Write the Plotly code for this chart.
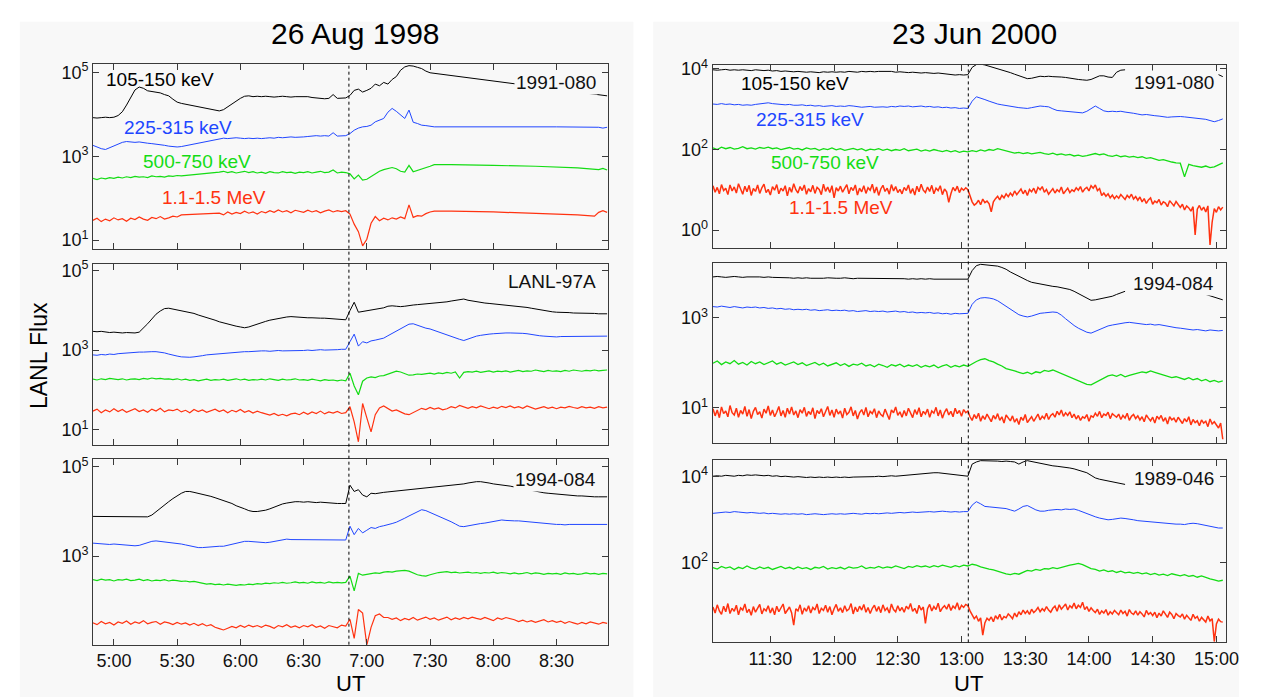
import plotly.graph_objects as go

W, H = 1261, 698
NA = None

# Sample times in minutes after midnight UT
t_1998 = list(range(290, 535, 2))     # 04:50 .. 08:54, 2-min cadence
t_2000 = list(range(663, 904, 2))     # 11:03 .. 15:03, 2-min cadence
t_2000_1m = list(range(663, 904))     # 11:03 .. 15:03, 1-min cadence (1.1-1.5 MeV)

onset_1998 = 411.5   # 06:51.5 UT
onset_2000 = 783.2   # 13:03.2 UT

channels = ["105-150 keV", "225-315 keV", "500-750 keV", "1.1-1.5 MeV"]
channel_colors = ["#000000", "#2046ff", "#14dc14", "#ff3210"]

ticks_1998 = ["5:00", "5:30", "6:00", "6:30", "7:00", "7:30", "8:00", "8:30"]
ticks_2000 = ["11:30", "12:00", "12:30", "13:00", "13:30", "14:00", "14:30", "15:00"]

# ---- 26 Aug 1998, 1991-080 : log10 flux ----
lg_a_105 = [
    3.92, 3.91, 3.92, 3.93, 3.92, 3.93, 3.97, 4.06, 4.22, 4.40,
    4.58, 4.65, 4.62, 4.56, 4.54, 4.53, 4.51, 4.47, 4.44, 4.36,
    4.29, 4.26, NA, NA, NA, NA, NA, NA, NA, NA,
    4.08, 4.11, 4.18, 4.25, 4.32, 4.38, 4.43, 4.44, 4.42, 4.43,
    4.42, 4.43, 4.42, 4.41, 4.42, 4.43, 4.42, 4.41, 4.42, 4.42,
    4.41, 4.42, 4.40, 4.39, 4.38, 4.37, 4.38, 4.47, 4.38, 4.39,
    4.39, 4.45, 4.57, 4.60, 4.53, 4.57, 4.62, 4.72, 4.68, 4.76,
    4.72, 4.83, 4.90, 5.05, 5.13, 5.16, 5.15, 5.12, 5.09, 5.03,
    4.99, NA, NA, NA, NA, NA, NA, NA, NA, NA,
    NA, NA, NA, NA, NA, NA, NA, NA, NA, NA,
    NA, NA, NA, NA, NA, NA, NA, NA, NA, NA,
    NA, NA, NA, NA, NA, NA, NA, NA, NA, NA,
    NA, NA, 4.44]
lg_a_225 = [
    3.26, 3.22, 3.18, 3.16, 3.20, 3.24, 3.29, 3.33, 3.35, 3.34,
    3.33, 3.34, 3.32, 3.31, 3.30, 3.29, 3.27, 3.26, 3.24, 3.23,
    3.22, 3.23, NA, NA, NA, NA, NA, NA, NA, NA,
    3.42, 3.43, 3.42, 3.43, 3.44, 3.43, 3.42, 3.43, 3.42, 3.43,
    3.42, 3.43, 3.44, 3.43, 3.45, 3.44, 3.45, 3.46, 3.45, 3.45,
    3.46, 3.47, 3.48, 3.49, 3.48, 3.49, 3.48, 3.56, 3.48, 3.49,
    3.49, 3.54, 3.62, 3.67, 3.70, 3.71, 3.74, 3.82, 3.86, 3.90,
    4.05, 4.14, 4.07, 3.99, 3.90, 4.10, 3.81, 3.78, 3.74, 3.73,
    3.71, 3.70, NA, NA, NA, NA, NA, NA, NA, NA,
    NA, NA, NA, NA, NA, NA, NA, NA, NA, NA,
    NA, NA, NA, NA, NA, NA, NA, NA, NA, NA,
    3.70, NA, NA, NA, NA, NA, NA, NA, NA, NA,
    3.69, 3.67, 3.69]
lg_a_500 = [
    2.47, 2.44, 2.48, 2.46, 2.49, 2.47, 2.50, 2.48, 2.51, 2.49,
    2.52, 2.50, 2.51, 2.49, 2.53, 2.51, 2.52, 2.50, 2.53, 2.52,
    2.54, 2.53, NA, NA, NA, NA, NA, NA, NA, NA,
    2.62, 2.64, 2.61, 2.63, 2.60, 2.62, 2.64, 2.61, 2.63, 2.60,
    2.62, 2.59, 2.63, 2.61, 2.60, 2.63, 2.61, 2.62, 2.59, 2.62,
    2.61, 2.63, 2.60, 2.62, 2.64, 2.61, 2.62, 2.67, 2.60, 2.62,
    2.61, 2.58, 2.46, 2.55, 2.43, 2.45, 2.52, 2.58, 2.64, 2.68,
    2.70, 2.73, 2.70, 2.64, 2.62, 2.78, 2.63, 2.66, 2.69, 2.72,
    2.76, 2.80, NA, NA, NA, 2.80, NA, NA, NA, NA,
    NA, NA, NA, NA, NA, 2.78, NA, NA, NA, NA,
    NA, NA, NA, NA, NA, 2.76, NA, NA, NA, NA,
    NA, NA, NA, NA, NA, 2.72, NA, NA, NA, 2.70,
    2.68, 2.71, 2.67]
lg_a_1100 = [
    1.47, 1.52, 1.44, 1.50, 1.46, 1.53, 1.48, 1.51, 1.45, 1.52,
    1.49, 1.55, 1.50, 1.47, 1.54, 1.51, 1.56, 1.50, 1.53, 1.57,
    1.55, 1.60, NA, NA, NA, NA, NA, NA, NA, NA,
    1.64, 1.60, 1.67, 1.62, 1.66, 1.63, 1.69, 1.64, 1.67, 1.62,
    1.68, 1.65, 1.70, 1.66, 1.72, 1.67, 1.70, 1.65, 1.71, 1.68,
    1.66, 1.71, 1.67, 1.70, 1.65, 1.69, 1.72, 1.67, 1.70, 1.68,
    1.70, 1.62, 1.38, 1.20, 0.86, 1.02, 1.40, 1.56, 1.46, 1.52,
    1.48, 1.53, 1.50, 1.55, 1.51, 1.84, 1.54, 1.58, 1.57, 1.63,
    1.67, 1.69, NA, NA, NA, 1.69, NA, NA, NA, NA,
    NA, NA, NA, NA, NA, 1.67, NA, NA, NA, NA,
    NA, NA, NA, NA, NA, 1.64, NA, NA, NA, NA,
    NA, NA, NA, NA, NA, 1.60, NA, NA, NA, 1.57,
    1.66, 1.70, 1.66]

# ---- 26 Aug 1998, LANL-97A ----
lg_b_105 = [
    3.47, 3.46, 3.47, 3.45, 3.44, 3.45, 3.44, 3.43, 3.44, 3.43,
    3.43, 3.45, 3.55, 3.66, 3.78, 3.90, 3.98, 4.04, 4.05, 4.03,
    4.01, 3.99, 3.97, 3.95, 3.92, 3.88, 3.85, 3.82, 3.78, 3.75,
    3.71, 3.68, 3.65, 3.62, 3.60, 3.58, 3.56, 3.58, 3.62, 3.66,
    3.69, 3.72, 3.75, 3.77, 3.80, 3.82, 3.83, 3.84, 3.83, 3.82,
    3.82, 3.81, 3.81, 3.80, 3.80, 3.80, 3.79, 3.78, 3.77, 3.77,
    3.76, 3.99, 4.20, 3.95, 3.97, 3.99, 4.01, 4.03, 4.04, 4.06,
    4.10, 4.11, 4.10, 4.09, 4.10, 4.12, 4.13, 4.14, 4.15, 4.16,
    4.16, 4.17, 4.18, 4.19, 4.21, 4.23, 4.25, 4.27, 4.28, 4.25,
    4.23, 4.21, 4.20, 4.18, 4.17, 4.16, 4.15, 4.14, 4.13, 4.11,
    4.10, 4.09, 4.08, 4.07, 4.05, 4.03, 4.01, 3.99, 3.97, 3.96,
    3.95, 3.95, 3.94, 3.94, 3.93, 3.93, 3.93, 3.92, 3.92, 3.92,
    3.91, 3.91, 3.91]
lg_b_225 = [
    2.88, 2.87, 2.89, 2.88, 2.90, 2.89, 2.91, 2.92, 2.92, 2.93,
    2.94, 2.95, 2.95, 2.96, 2.96, 2.96, 2.95, 2.93, 2.90, 2.87,
    2.85, 2.83, 2.82, 2.82, 2.83, 2.84, 2.86, 2.88, 2.89, 2.90,
    2.91, 2.92, 2.92, 2.93, 2.94, 2.95, 2.96, 2.96, 2.97, 2.97,
    2.98, 2.98, 2.97, 2.98, 2.99, 2.98, 2.98, 2.99, 2.98, 2.99,
    2.99, 3.00, 2.99, 3.00, 3.01, 3.00, 3.00, 3.01, 3.01, 3.02,
    3.02, 3.21, 3.40, 3.10, 3.21, 3.18, 3.23, 3.25, 3.27, 3.30,
    3.36, 3.42, 3.48, 3.54, 3.60, 3.65, 3.66, 3.62, 3.58, 3.55,
    3.53, 3.49, 3.45, 3.41, 3.37, 3.33, 3.30, 3.27, 3.24, 3.28,
    3.32, 3.35, 3.37, 3.39, 3.40, 3.41, 3.42, 3.42, 3.43, 3.43,
    3.43, 3.42, 3.42, 3.41, 3.39, 3.38, 3.36, 3.35, 3.34, 3.33,
    3.33, 3.34, 3.34, 3.35, 3.34, 3.35, 3.35, 3.34, 3.35, 3.35,
    3.35, 3.34, 3.35]
lg_b_500 = [
    2.27, 2.25, 2.28, 2.26, 2.29, 2.27, 2.26, 2.28, 2.25, 2.27,
    2.28, 2.26, 2.29, 2.27, 2.30, 2.28, 2.29, 2.27, 2.28, 2.26,
    2.28, 2.25, 2.27, 2.24, 2.26, 2.23, 2.25, 2.27, 2.24, 2.26,
    2.25, 2.27, 2.24, 2.26, 2.28, 2.25, 2.27, 2.24, 2.26, 2.25,
    2.27, 2.25, 2.28, 2.26, 2.24, 2.27, 2.25, 2.26, 2.28, 2.25,
    2.26, 2.24, 2.27, 2.25, 2.23, 2.26, 2.24, 2.25, 2.23, 2.25,
    2.23, 2.42, 2.10, 1.88, 2.22, 2.30, 2.33, 2.31, 2.35, 2.36,
    2.40, 2.44, 2.47, 2.45, 2.41, 2.37, 2.38, 2.40, 2.39, 2.41,
    2.42, 2.40, 2.43, 2.41, 2.44, 2.42, 2.45, 2.30, 2.44, 2.46,
    2.45, 2.47, 2.44, 2.46, 2.48, 2.45, 2.47, 2.46, 2.48, 2.45,
    2.47, 2.49, 2.46, 2.48, 2.47, 2.50, 2.48, 2.46, 2.49, 2.47,
    2.48, 2.46, 2.49, 2.47, 2.50, 2.48, 2.47, 2.49, 2.48, 2.50,
    2.48, 2.49, 2.50]
lg_b_1100 = [
    1.47, 1.52, 1.43, 1.50, 1.45, 1.53, 1.46, 1.51, 1.44, 1.49,
    1.53, 1.46, 1.50, 1.44, 1.52, 1.47, 1.54, 1.45, 1.50, 1.48,
    1.52, 1.45, 1.49, 1.43, 1.51, 1.46, 1.50, 1.44, 1.48, 1.52,
    1.46, 1.50, 1.43, 1.49, 1.45, 1.51, 1.44, 1.48, 1.42, 1.47,
    1.43, 1.40, 1.37, 1.41, 1.36, 1.39, 1.35, 1.40, 1.42, 1.38,
    1.44, 1.39, 1.45, 1.41, 1.47, 1.40, 1.45, 1.42, 1.46, 1.41,
    1.43, 1.58, 1.20, 0.70, 1.66, 1.30, 0.95, 1.38, 1.55, 1.60,
    1.53, 1.47, 1.50, 1.45, 1.40, 1.38, 1.44, 1.50, 1.54, 1.51,
    1.56, 1.52, 1.55, 1.50, 1.53, 1.58, 1.55, 1.61, 1.57, 1.54,
    1.58, 1.55, 1.60, 1.56, 1.53, 1.57, 1.54, 1.59, 1.56, 1.60,
    1.55, 1.58, 1.54, 1.60, 1.56, 1.52, 1.55, 1.58, 1.54, 1.57,
    1.53, 1.57, 1.55, 1.59, 1.56, 1.54, 1.58, 1.55, 1.57, 1.54,
    1.58, 1.55, 1.57]

# ---- 26 Aug 1998, 1994-084 ----
lg_c_105 = [
    3.89, 3.89, 3.88, 3.89, 3.88, 3.89, 3.88, 3.88, 3.89, 3.88,
    3.88, 3.88, 3.88, 3.88, 3.92, 4.00, 4.08, 4.15, 4.22, 4.29,
    4.36, 4.41, 4.45, 4.45, 4.43, 4.41, 4.39, 4.37, 4.34, 4.31,
    4.28, 4.25, 4.22, 4.18, 4.13, 4.10, 4.06, 4.02, 4.00, 4.00,
    4.01, 4.03, 4.06, 4.10, 4.14, 4.17, 4.19, 4.21, 4.22, 4.22,
    4.21, 4.22, 4.21, 4.20, 4.21, 4.20, 4.19, 4.19, 4.18, 4.18,
    4.18, 4.59, 4.45, 4.49, 4.37, 4.33, 4.41, 4.40, 4.42, 4.43,
    4.44, 4.45, 4.45, 4.46, 4.47, 4.48, 4.49, 4.50, 4.52, 4.53,
    4.54, 4.55, 4.56, 4.57, 4.58, 4.59, 4.60, 4.61, 4.62, 4.64,
    4.66, 4.67, 4.67, 4.66, 4.64, 4.62, 4.61, 4.60, 4.59, 4.57,
    4.55, 4.53, 4.51, 4.49, 4.47, 4.45, 4.43, 4.42, 4.41, 4.40,
    4.39, 4.39, 4.38, 4.37, 4.36, 4.35, 4.35, 4.34, 4.34, 4.33,
    4.33, 4.33, 4.33]
lg_c_225 = [
    3.29, 3.28, 3.28, 3.27, 3.26, 3.27, 3.26, 3.25, 3.24, 3.23,
    3.23, 3.24, 3.27, 3.30, 3.33, 3.34, 3.33, 3.31, 3.30, 3.29,
    3.29, 3.27, 3.25, 3.23, 3.21, 3.19, 3.19, 3.20, 3.20, 3.21,
    3.22, 3.22, 3.24, 3.26, 3.28, 3.31, 3.33, 3.33, 3.32, 3.31,
    3.30, 3.30, 3.31, 3.33, 3.35, 3.37, 3.38, 3.37, 3.37, 3.36,
    3.36, 3.37, 3.36, 3.37, 3.36, 3.36, 3.37, 3.36, 3.36, 3.36,
    3.36, 3.67, 3.48, 3.62, 3.52, 3.58, 3.64, 3.62, 3.66, 3.68,
    3.70, 3.73, 3.76, 3.80, 3.85, 3.90, 3.95, 4.00, 4.04, 4.02,
    3.98, 3.94, 3.90, 3.86, 3.82, 3.77, 3.72, 3.67, 3.66, 3.68,
    3.70, 3.72, 3.73, 3.74, 3.76, 3.78, 3.80, 3.81, 3.80, 3.79,
    3.79, 3.79, 3.78, 3.77, 3.76, 3.75, 3.74, 3.73, 3.72, 3.71,
    3.71, 3.71, 3.70, 3.71, 3.71, 3.70, 3.71, 3.71, 3.70, 3.71,
    3.71, 3.71, 3.71]
lg_c_500 = [
    2.47, 2.45, 2.48, 2.46, 2.47, 2.44, 2.47, 2.46, 2.48, 2.45,
    2.46, 2.48, 2.45, 2.47, 2.44, 2.46, 2.45, 2.47, 2.44, 2.46,
    2.45, 2.43, 2.44, 2.42, 2.43, 2.41, 2.39, 2.37, 2.38, 2.36,
    2.37, 2.35, 2.37, 2.36, 2.34, 2.36, 2.35, 2.37, 2.36, 2.38,
    2.37, 2.39, 2.38, 2.40, 2.39, 2.41, 2.39, 2.40, 2.42, 2.40,
    2.41, 2.39, 2.42, 2.40, 2.41, 2.39, 2.42, 2.40, 2.41, 2.40,
    2.41, 2.55, 2.22, 2.61, 2.57, 2.59, 2.60, 2.62, 2.61, 2.64,
    2.65, 2.64, 2.66, 2.67, 2.68, 2.66, 2.62, 2.58, 2.56, 2.55,
    2.58, 2.61, 2.63, 2.64, 2.65, 2.63, 2.64, 2.62, 2.63, 2.64,
    2.62, 2.63, 2.61, 2.63, 2.62, 2.64, 2.61, 2.63, 2.62, 2.60,
    2.62, 2.60, 2.61, 2.63, 2.60, 2.62, 2.61, 2.59, 2.61, 2.60,
    2.61, 2.59, 2.62, 2.60, 2.61, 2.59, 2.60, 2.62, 2.60, 2.61,
    2.59, 2.61, 2.60]
lg_c_1100 = [
    1.50, 1.46, 1.53, 1.48, 1.51, 1.45, 1.52, 1.49, 1.54, 1.47,
    1.52, 1.49, 1.55, 1.48, 1.51, 1.53, 1.47, 1.52, 1.50, 1.46,
    1.51, 1.47, 1.50, 1.45, 1.49, 1.44, 1.48, 1.43, 1.46, 1.40,
    1.37, 1.34, 1.38, 1.42, 1.39, 1.44, 1.40, 1.45, 1.41, 1.44,
    1.40, 1.45, 1.42, 1.38, 1.44, 1.41, 1.46, 1.40, 1.43, 1.39,
    1.44, 1.41, 1.46, 1.40, 1.43, 1.38, 1.44, 1.42, 1.39, 1.45,
    1.43, 1.58, 1.15, 1.80, 1.72, 1.00, 1.40, 1.66, 1.70, 1.62,
    1.62, 1.58, 1.61, 1.55, 1.60, 1.57, 1.62, 1.56, 1.59, 1.63,
    1.58, 1.61, 1.56, 1.60, 1.63, 1.57, 1.61, 1.58, 1.62, 1.59,
    1.63, 1.60, 1.58, 1.62, 1.59, 1.55, 1.61, 1.58, 1.62, 1.60,
    1.57, 1.53, 1.56, 1.52, 1.55, 1.51, 1.54, 1.57, 1.52, 1.55,
    1.51, 1.54, 1.49, 1.53, 1.50, 1.47, 1.51, 1.48, 1.52, 1.49,
    1.47, 1.51, 1.49]

# ---- 23 Jun 2000, 1991-080 ----
lg_d_105 = [
    3.98, 3.97, 3.98, 3.99, 3.97, 3.98, 3.97, 3.98, 3.97, 3.96,
    3.98, 3.97, 3.96, 3.97, 3.95, 3.96, 3.94, 3.95, 3.94, 3.93,
    3.94, 3.93, 3.92, 3.93, 3.92, 3.91, 3.93, 3.92, 3.93, 3.92,
    3.93, 3.92, 3.94, 3.93, 3.92, 3.94, 3.93, 3.94, 3.93, 3.94,
    3.94, 3.93, 3.94, 3.92, 3.93, 3.92, 3.91, 3.92, 3.91, 3.90,
    3.91, 3.90, 3.89, 3.90, 3.89, 3.88, 3.86, 3.85, 3.86, 3.85,
    3.86, 4.04, 4.11, 4.12, 4.10, 4.07, 4.04, 4.01, 3.98, 3.95,
    3.91, 3.87, 3.83, 3.79, 3.76, 3.77, 3.80, 3.82, 3.81, 3.82,
    3.81, 3.81, 3.80, 3.79, 3.77, 3.75, 3.74, 3.73, 3.72, 3.74,
    3.78, 3.83, 3.83, 3.80, 3.79, 3.92, 3.97, 3.98, NA, NA,
    NA, NA, NA, NA, NA, NA, NA, NA, NA, NA,
    NA, NA, NA, NA, NA, NA, NA, NA, NA, 3.86,
    3.81]
lg_d_225 = [
    3.13, 3.12, 3.14, 3.12, 3.13, 3.11, 3.12, 3.10, 3.11, 3.10,
    3.12, 3.13, 3.15, 3.16, 3.14, 3.13, 3.12, 3.11, 3.12, 3.10,
    3.10, 3.11, 3.09, 3.10, 3.08, 3.09, 3.07, 3.08, 3.09, 3.07,
    3.08, 3.07, 3.09, 3.08, 3.07, 3.05, 3.06, 3.07, 3.05, 3.06,
    3.06, 3.05, 3.07, 3.06, 3.08, 3.07, 3.08, 3.06, 3.07, 3.08,
    3.06, 3.07, 3.05, 3.06, 3.04, 3.05, 3.03, 3.04, 3.02, 3.03,
    3.02, 3.20, 3.31, 3.28, 3.24, 3.20, 3.16, 3.13, 3.11, 3.09,
    3.07, 3.06, 3.04, 3.03, 3.02, 3.04, 3.06, 3.08, 3.07, 3.06,
    3.01, 2.97, 2.96, 2.95, 2.94, 2.93, 2.92, 2.91, 2.95, 3.02,
    3.08, 3.02, 2.96, 2.94, 2.95, 2.94, 2.95, 2.93, 2.92, 2.90,
    2.88, 2.86, 2.87, 2.85, 2.84, 2.83, 2.81, 2.80, 2.81, 2.82,
    2.82, 2.81, 2.80, 2.79, 2.77, 2.76, 2.75, 2.72, 2.69, 2.72,
    2.76]
lg_d_500 = [
    2.04, 2.00, 2.06, 2.02, 2.05, 2.01, 2.03, 2.07, 2.02, 2.04,
    2.01, 2.05, 2.03, 2.06, 2.02, 2.04, 2.00, 2.03, 2.05, 2.01,
    2.03, 1.99, 2.04, 2.01, 2.03, 1.98, 2.02, 2.00, 2.04, 1.99,
    2.02, 1.98, 2.01, 2.03, 1.99, 2.02, 1.97, 2.01, 1.99, 2.02,
    1.98, 2.01, 1.97, 2.00, 1.98, 2.02, 1.97, 1.99, 2.01, 1.96,
    1.99, 1.96, 2.00, 1.97, 1.95, 1.98, 1.94, 1.97, 1.93, 1.96,
    1.94, 1.97, 1.95, 1.99, 1.96, 2.00, 1.98, 2.02, 1.99, 1.97,
    1.94, 1.91, 1.93, 1.90, 1.92, 1.89, 1.91, 1.93, 1.90, 1.88,
    1.91, 1.87, 1.89, 1.86, 1.88, 1.84, 1.86, 1.83, 1.85, 1.88,
    1.90, 1.87, 1.89, 1.85, 1.83, 1.86, 1.82, 1.84, 1.81, 1.83,
    1.80, 1.82, 1.78, 1.80, 1.76, 1.73, 1.75, 1.71, 1.69, 1.67,
    1.66, 1.32, 1.63, 1.60, 1.58, 1.56, 1.59, 1.55, 1.57, 1.62,
    1.67]
lg_d_1100 = [  # 1-min cadence
    1.10, 0.94, 1.06, 0.90, 1.13, 0.98, 1.04, 0.88, 1.12, 0.97,
    1.07, 0.92, 1.15, 1.00, 0.89, 1.09, 0.95, 1.11, 0.86, 1.03,
    0.96, 1.12, 0.91, 1.05, 1.14, 0.93, 1.01, 0.87, 1.08, 0.99,
    1.13, 0.90, 1.04, 0.97, 1.10, 0.85, 1.06, 0.94, 1.15, 1.00,
    0.92, 1.08, 0.98, 1.12, 0.89, 1.03, 0.95, 1.11, 0.91, 1.06,
    1.01, 0.88, 1.14, 0.96, 1.07, 0.93, 1.10, 0.80, 1.05, 0.97,
    1.09, 0.94, 1.03, 1.13, 0.90, 1.06, 0.98, 1.12, 0.87, 1.04,
    0.95, 1.10, 0.91, 1.05, 0.99, 1.14, 0.92, 1.07, 0.86, 1.02,
    1.11, 0.96, 1.04, 0.89, 1.13, 0.97, 1.08, 0.93, 1.01, 0.90,
    1.06, 0.98, 1.12, 0.91, 1.03, 0.87, 1.09, 0.95, 1.14, 0.99,
    0.93, 1.07, 0.96, 1.11, 0.90, 1.04, 0.98, 1.10, 0.88, 1.02,
    0.95, 0.69, 0.90, 1.06, 0.97, 1.09, 0.93, 1.04, 0.99, 1.05,
    1.00, 0.82, 0.70, 0.62, 0.66, 0.74, 0.63, 0.77, 0.68, 0.72,
    0.65, 0.45, 0.70, 0.78, 0.84, 0.75, 0.86, 0.80, 0.90, 0.83,
    0.92, 0.85, 0.97, 0.88, 0.94, 1.02, 0.90, 0.99, 0.86, 1.01,
    0.95, 1.04, 0.91, 1.06, 1.00, 1.08, 0.94, 1.01, 0.89, 0.96,
    1.03, 0.92, 1.00, 0.95, 1.07, 0.90, 0.98, 1.04, 0.93, 1.00,
    0.96, 1.05, 0.99, 1.08, 0.94, 1.02, 1.06, 0.97, 1.10, 1.04,
    1.12, 0.98, 1.03, 0.86, 0.92, 0.84, 0.90, 0.80, 0.87, 0.78,
    0.85, 0.79, 0.88, 0.82, 0.76, 0.86, 0.80, 0.89, 0.77, 0.83,
    0.74, 0.82, 0.70, 0.78, 0.66, 0.75, 0.80, 0.64, 0.72, 0.68,
    0.76, 0.62, 0.70, 0.67, 0.58, 0.73, 0.65, 0.60, 0.71, 0.63,
    0.56, 0.64, 0.50, 0.60, 0.55, 0.47, 0.58, -0.12, 0.52, 0.61,
    0.49, 0.57, 0.45, 0.60, -0.37, 0.20, 0.53, 0.44, 0.58, 0.50,
    0.57]

# ---- 23 Jun 2000, 1994-084 ----
lg_e_105 = [
    3.91, 3.92, 3.91, 3.90, 3.91, 3.92, 3.91, 3.90, 3.91, 3.91,
    3.92, 3.91, 3.90, 3.91, 3.90, 3.90, 3.89, 3.90, 3.89, 3.88,
    3.89, 3.88, 3.89, 3.88, 3.88, 3.87, 3.88, 3.89, 3.88, 3.88,
    3.88, 3.89, 3.88, 3.87, 3.88, 3.88, 3.87, 3.88, 3.88, 3.87,
    3.88, 3.87, 3.87, 3.88, 3.87, 3.87, 3.86, 3.87, 3.86, 3.87,
    3.86, 3.87, 3.86, 3.86, 3.85, 3.86, 3.85, 3.86, 3.85, 3.86,
    3.86, 4.05, 4.16, 4.19, 4.18, 4.18, 4.17, 4.15, 4.12, 4.08,
    4.02, 3.97, 3.92, 3.87, 3.83, 3.79, 3.77, 3.75, 3.73, 3.72,
    3.70, 3.69, 3.67, 3.65, 3.63, 3.59, 3.54, 3.50, 3.44, 3.39,
    3.40, 3.42, 3.44, 3.46, 3.48, 3.52, 3.55, 3.59, NA, NA,
    NA, NA, NA, NA, NA, NA, NA, NA, NA, NA,
    NA, NA, NA, 3.55, 3.54, 3.53, 3.52, 3.49, 3.46, 3.43,
    3.40]
lg_e_225 = [
    3.25, 3.24, 3.26, 3.25, 3.23, 3.25, 3.24, 3.22, 3.24, 3.23,
    3.24, 3.22, 3.23, 3.21, 3.22, 3.20, 3.21, 3.19, 3.20, 3.18,
    3.19, 3.18, 3.19, 3.17, 3.18, 3.16, 3.17, 3.18, 3.16, 3.17,
    3.16, 3.17, 3.15, 3.16, 3.14, 3.15, 3.16, 3.14, 3.15, 3.14,
    3.15, 3.13, 3.14, 3.15, 3.13, 3.14, 3.12, 3.13, 3.11, 3.12,
    3.11, 3.12, 3.10, 3.11, 3.09, 3.10, 3.08, 3.10, 3.09, 3.10,
    3.10, 3.30, 3.40, 3.44, 3.45, 3.44, 3.42, 3.38, 3.32, 3.25,
    3.18, 3.12, 3.07, 3.04, 3.02, 3.04, 3.07, 3.10, 3.11, 3.12,
    3.13, 3.12, 3.06, 2.98, 2.90, 2.83, 2.77, 2.72, 2.68, 2.66,
    2.70, 2.74, 2.78, 2.82, 2.84, 2.86, 2.88, 2.89, 2.90, 2.89,
    2.88, 2.86, 2.85, 2.86, 2.84, 2.85, 2.83, 2.82, 2.80, 2.78,
    2.77, 2.76, 2.75, 2.73, 2.74, 2.72, 2.71, 2.73, 2.72, 2.71,
    2.72]
lg_e_500 = [
    1.99, 2.04, 1.96, 2.02, 1.98, 2.05, 1.97, 2.01, 1.95, 2.03,
    1.98, 2.02, 1.96, 2.00, 2.04, 1.97, 2.01, 1.95, 1.99, 2.02,
    1.96, 2.00, 1.94, 1.98, 2.01, 1.95, 1.99, 1.93, 1.97, 2.00,
    1.94, 1.98, 1.92, 1.97, 1.95, 1.99, 1.93, 1.96, 1.91, 1.97,
    1.94, 1.90, 1.96, 1.93, 1.97, 1.91, 1.95, 1.92, 1.96, 1.90,
    1.94, 1.91, 1.95, 1.89, 1.93, 1.96, 1.90, 1.94, 1.91, 1.95,
    1.92, 1.98, 2.03, 2.07, 2.09, 2.05, 2.02, 1.97, 1.93, 1.87,
    1.85, 1.82, 1.79, 1.76, 1.79, 1.75, 1.80, 1.78, 1.83, 1.81,
    1.84, 1.80, 1.77, 1.72, 1.68, 1.64, 1.60, 1.56, 1.52, 1.51,
    1.56, 1.62, 1.67, 1.71, 1.73, 1.70, 1.74, 1.69, 1.72, 1.75,
    1.77, 1.80, 1.78, 1.82, 1.79, 1.76, 1.73, 1.70, 1.67, 1.69,
    1.66, 1.63, 1.67, 1.62, 1.65, 1.60, 1.63, 1.58, 1.61, 1.57,
    1.60]
lg_e_1100 = [  # 1-min cadence
    0.98, 0.82, 0.95, 0.78, 1.02, 0.87, 0.93, 0.80, 1.05, 0.89,
    0.84, 0.99, 0.79, 0.94, 0.86, 1.03, 0.81, 0.96, 0.76, 0.92,
    1.01, 0.85, 0.91, 0.77, 0.97, 0.88, 1.04, 0.83, 0.95, 0.80,
    0.90, 1.03, 0.82, 0.94, 0.79, 0.99, 0.86, 1.02, 0.84, 0.93,
    0.78, 0.96, 0.88, 1.01, 0.81, 0.92, 0.85, 1.00, 0.76, 0.94,
    0.87, 0.98, 0.80, 0.91, 1.03, 0.83, 0.95, 0.79, 0.97, 0.86,
    0.93, 0.77, 0.99, 0.85, 0.90, 1.02, 0.82, 0.94, 0.75, 0.89,
    0.96, 0.84, 1.01, 0.80, 0.92, 0.87, 0.98, 0.78, 0.93, 0.85,
    0.81, 0.97, 0.86, 0.74, 0.95, 0.89, 1.02, 0.83, 0.91, 0.79,
    0.94, 0.82, 0.99, 0.87, 0.78, 0.96, 0.85, 1.00, 0.80, 0.92,
    0.86, 0.97, 0.79, 0.93, 0.88, 1.01, 0.82, 0.95, 0.77, 0.90,
    0.98, 0.84, 0.92, 0.80, 0.99, 0.87, 0.94, 0.81, 0.96, 0.89,
    0.93, 0.80, 0.72, 0.85, 0.76, 0.88, 0.70, 0.82, 0.74, 0.86,
    0.78, 0.69, 0.83, 0.75, 0.87, 0.72, 0.80, 0.66, 0.84, 0.77,
    0.71, 0.82, 0.68, 0.76, 0.63, 0.79, 0.72, 0.85, 0.67, 0.74,
    0.80, 0.70, 0.78, 0.86, 0.73, 0.81, 0.76, 0.88, 0.74, 0.83,
    0.87, 0.79, 0.92, 0.84, 0.95, 0.81, 0.89, 0.83, 0.91, 0.78,
    0.86, 0.75, 0.83, 0.72, 0.80, 0.77, 0.85, 0.70, 0.82, 0.79,
    0.88, 0.81, 0.92, 0.78, 0.86, 0.83, 0.90, 0.76, 0.87, 0.82,
    0.79, 0.86, 0.74, 0.83, 0.77, 0.88, 0.72, 0.81, 0.85, 0.76,
    0.82, 0.73, 0.80, 0.69, 0.84, 0.77, 0.71, 0.79, 0.66, 0.81,
    0.75, 0.83, 0.70, 0.78, 0.64, 0.80, 0.73, 0.77, 0.68, 0.79,
    0.72, 0.65, 0.76, 0.69, 0.80, 0.62, 0.74, 0.67, 0.71, 0.60,
    0.73, 0.66, 0.70, 0.58, 0.75, 0.64, 0.69, 0.61, 0.55, 0.66,
    0.30]

# ---- 23 Jun 2000, 1989-046 ----
lg_f_105 = [
    4.00, 4.01, 4.00, 4.02, 4.01, 4.00, 4.02, 4.01, 4.03, 4.02,
    4.03, 4.02, 4.01, 4.02, 4.00, 4.01, 3.99, 4.00, 3.99, 3.98,
    3.99, 3.98, 3.97, 3.98, 3.97, 3.98, 3.97, 3.98, 3.97, 3.98,
    3.97, 3.98, 3.97, 3.98, 3.98, 3.99, 3.98, 3.99, 3.99, 4.00,
    3.99, 4.00, 4.01, 4.00, 4.01, 4.02, 4.03, 4.04, 4.05, 4.06,
    4.06, 4.07, 4.08, 4.08, 4.07, 4.06, 4.05, 4.03, 4.02, 4.01,
    4.00, 4.28, 4.33, 4.36, 4.36, 4.35, 4.36, 4.35, 4.34, 4.35,
    4.34, 4.33, 4.28, 4.33, 4.36, 4.34, 4.31, 4.29, 4.27, 4.26,
    4.24, 4.23, 4.22, 4.21, 4.19, 4.17, 4.14, 4.12, 4.08, 4.02,
    3.96, 3.93, 3.91, 3.88, 3.86, 3.84, 3.82, 3.81, NA, NA,
    NA, NA, NA, NA, NA, NA, NA, NA, NA, NA,
    NA, NA, NA, NA, NA, NA, NA, NA, NA, NA,
    NA]
lg_f_225 = [
    3.14, 3.15, 3.16, 3.17, 3.16, 3.18, 3.17, 3.16, 3.15, 3.16,
    3.15, 3.14, 3.15, 3.13, 3.14, 3.13, 3.12, 3.13, 3.12, 3.13,
    3.12, 3.13, 3.11, 3.12, 3.13, 3.12, 3.11, 3.12, 3.13, 3.12,
    3.13, 3.12, 3.13, 3.14, 3.13, 3.12, 3.14, 3.13, 3.14, 3.13,
    3.14, 3.15, 3.14, 3.15, 3.16, 3.15, 3.16, 3.17, 3.16, 3.17,
    3.17, 3.18, 3.17, 3.18, 3.19, 3.18, 3.17, 3.18, 3.17, 3.18,
    3.18, 3.33, 3.41, 3.36, 3.30, 3.29, 3.28, 3.28, 3.27, 3.25,
    3.22, 3.19, 3.24, 3.30, 3.32, 3.27, 3.22, 3.19, 3.19, 3.21,
    3.22, 3.23, 3.22, 3.24, 3.23, 3.24, 3.21, 3.17, 3.13, 3.10,
    3.06, 3.03, 3.01, 2.99, 3.00, 3.02, 3.03, 3.02, 3.01, 2.99,
    2.97, 2.96, 2.95, 2.94, 2.93, 2.92, 2.91, 2.90, 2.90, 2.89,
    2.89, 2.88, 2.90, 2.91, 2.90, 2.88, 2.86, 2.84, 2.82, 2.80,
    2.80]
lg_f_500 = [
    1.88, 1.85, 1.91, 1.87, 1.90, 1.84, 1.89, 1.86, 1.92, 1.87,
    1.85, 1.90, 1.86, 1.89, 1.84, 1.88, 1.91, 1.86, 1.89, 1.85,
    1.90, 1.86, 1.88, 1.84, 1.89, 1.87, 1.91, 1.85, 1.88, 1.86,
    1.89, 1.85, 1.90, 1.87, 1.88, 1.92, 1.86, 1.89, 1.87, 1.91,
    1.87, 1.90, 1.88, 1.92, 1.89, 1.86, 1.91, 1.89, 1.93, 1.90,
    1.92, 1.89, 1.93, 1.90, 1.94, 1.91, 1.89, 1.93, 1.90, 1.94,
    1.92, 1.96, 1.94, 1.90, 1.87, 1.85, 1.83, 1.80, 1.76, 1.74,
    1.72, 1.75, 1.73, 1.78, 1.82, 1.80, 1.84, 1.82, 1.86, 1.85,
    1.88, 1.86, 1.89, 1.91, 1.94, 1.96, 1.98, 1.95, 1.90, 1.86,
    1.84, 1.80, 1.83, 1.79, 1.81, 1.77, 1.80, 1.76, 1.78, 1.75,
    1.77, 1.74, 1.76, 1.72, 1.75, 1.71, 1.73, 1.70, 1.74, 1.71,
    1.69, 1.72, 1.68, 1.70, 1.66, 1.69, 1.65, 1.62, 1.60, 1.57,
    1.59]
lg_f_1100 = [  # 1-min cadence
    0.97, 0.83, 1.02, 0.88, 0.80, 0.99, 0.86, 1.05, 0.82, 0.94,
    0.87, 1.01, 0.79, 0.95, 0.90, 1.04, 0.84, 0.92, 0.78, 0.98,
    0.85, 0.96, 1.03, 0.81, 0.93, 0.88, 1.00, 0.83, 0.95, 0.79,
    0.99, 0.86, 0.94, 1.04, 0.82, 0.91, 0.97, 0.84, 0.55, 0.93,
    0.88, 1.02, 0.80, 0.95, 0.87, 1.00, 0.83, 0.96, 0.90, 1.04,
    0.82, 0.94, 0.89, 1.01, 0.85, 0.98, 0.79, 0.93, 1.03, 0.87,
    0.95, 0.84, 1.00, 0.88, 0.92, 1.05, 0.81, 0.97, 0.86, 0.99,
    0.90, 1.03, 0.85, 0.96, 0.82, 0.94, 1.01, 0.87, 0.98, 0.84,
    1.02, 0.89, 0.95, 0.83, 1.04, 0.91, 0.86, 1.00, 0.88, 0.96,
    0.85, 0.99, 0.92, 1.05, 0.87, 0.94, 0.82, 1.01, 0.90, 0.97,
    0.59, 0.93, 1.03, 0.88, 0.98, 0.91, 1.06, 0.86, 0.95, 1.00,
    0.92, 1.04, 0.89, 0.99, 0.94, 1.07, 0.90, 1.01, 0.96, 1.03,
    1.00, 0.88, 0.79, 0.70, 0.76, 0.64, 0.72, 0.32, 0.60, 0.71,
    0.66, 0.74, 0.63, 0.77, 0.69, 0.80, 0.67, 0.75, 0.72, 0.81,
    0.76, 0.70, 0.83, 0.74, 0.86, 0.79, 0.90, 0.82, 0.88, 0.80,
    0.92, 0.84, 0.89, 0.96, 0.86, 0.93, 0.88, 0.98, 0.90, 0.85,
    0.94, 0.99, 0.87, 1.02, 0.92, 0.97, 1.04, 0.90, 1.00, 0.95,
    1.06, 0.93, 1.01, 0.96, 1.08, 0.91, 0.98, 0.87, 0.95, 0.89,
    0.84, 0.92, 0.80, 0.88, 0.83, 0.91, 0.78, 0.86, 0.81, 0.89,
    0.85, 0.79, 0.90, 0.82, 0.87, 0.76, 0.91, 0.83, 0.80, 0.88,
    0.78, 0.86, 0.81, 0.74, 0.89, 0.80, 0.84, 0.77, 0.85, 0.72,
    0.83, 0.76, 0.88, 0.79, 0.73, 0.85, 0.80, 0.70, 0.82, 0.77,
    0.74, 0.81, 0.69, 0.78, 0.72, 0.66, 0.80, 0.71, 0.75, 0.64,
    0.73, 0.68, 0.62, 0.76, 0.65, 0.70, 0.17, 0.58, 0.69, 0.63,
    0.62]

FONT = "Liberation Sans, Arial, Helvetica, sans-serif"
AXIS_COLOR = "#3a3a3a"
PANEL_BG = "#f8f8f8"


def minutes(label):
    h, m = label.split(":")
    return int(h) * 60 + int(m)


def px(x):
    return x / W


def py(y):
    return 1 - y / H


# one entry per panel: (times, values) per channel, satellite, y-range (decades), frame in pixels
panels = [
    dict(series=[(t_1998, lg_a_105), (t_1998, lg_a_225), (t_1998, lg_a_500), (t_1998, lg_a_1100)],
         sat="1991-080", col=0, yr=[0.79, 5.20], dec=[1, 3, 5], fx=(94, 614.3), fy=(56.7, 244.0),
         join=True, sat_y=75, bottom=False),
    dict(series=[(t_1998, lg_b_105), (t_1998, lg_b_225), (t_1998, lg_b_500), (t_1998, lg_b_1100)],
         sat="LANL-97A", col=0, yr=[0.63, 5.16], dec=[1, 3, 5], fx=(94, 614.3), fy=(259.3, 442.3),
         join=False, sat_y=277, bottom=False),
    dict(series=[(t_1998, lg_c_105), (t_1998, lg_c_225), (t_1998, lg_c_500), (t_1998, lg_c_1100)],
         sat="1994-084", col=0, yr=[1.01, 5.17], dec=[1, 3, 5], fx=(94, 614.3), fy=(457.3, 645.0),
         join=False, sat_y=478, bottom=True),
    dict(series=[(t_2000, lg_d_105), (t_2000, lg_d_225), (t_2000, lg_d_500), (t_2000_1m, lg_d_1100)],
         sat="1991-080", col=1, yr=[-0.45, 4.11], dec=[0, 2, 4], fx=(720, 1238.3), fy=(57.3, 243.3),
         join=False, sat_y=75, bottom=False),
    dict(series=[(t_2000, lg_e_105), (t_2000, lg_e_225), (t_2000, lg_e_500), (t_2000_1m, lg_e_1100)],
         sat="1994-084", col=1, yr=[0.21, 4.22], dec=[1, 3], fx=(720, 1238.3), fy=(258.3, 441.0),
         join=False, sat_y=279, bottom=False),
    dict(series=[(t_2000, lg_f_105), (t_2000, lg_f_225), (t_2000, lg_f_500), (t_2000_1m, lg_f_1100)],
         sat="1989-046", col=1, yr=[0.15, 4.38], dec=[2, 4], fx=(720, 1238.3), fy=(457.7, 642.7),
         join=False, sat_y=477, bottom=True),
]

# line widths per channel; the noisier high-energy traces are drawn a little heavier
widths = {0: [1.0, 1.0, 1.2, 1.2], 1: [1.0, 1.0, 1.3, 1.5]}

fig = go.Figure()
layout = {}
annotations = []

for i, p in enumerate(panels):
    k = i + 1
    xa = "x" if k == 1 else f"x{k}"
    ya = "y" if k == 1 else f"y{k}"
    tick_labels = ticks_1998 if p["col"] == 0 else ticks_2000
    t0, t1 = (290.1, 534.4) if p["col"] == 0 else (662.8, 904.3)

    for (times, lg), color, width in zip(p["series"], channel_colors, widths[p["col"]]):
        if len(lg) != len(times):
            raise ValueError(f"panel {k}: {len(lg)} values for {len(times)} times")
        flux = [None if v is None else 10 ** v for v in lg]
        fig.add_trace(go.Scatter(
            x=times, y=flux, mode="lines", xaxis=xa, yaxis=ya,
            line=dict(color=color, width=width), connectgaps=p["join"],
            hoverinfo="skip", showlegend=False))

    layout["xaxis" if k == 1 else f"xaxis{k}"] = dict(
        domain=[px(p["fx"][0]), px(p["fx"][1])], anchor=ya, range=[t0, t1],
        tickvals=[minutes(s) for s in tick_labels], ticktext=tick_labels,
        showticklabels=p["bottom"], ticks="inside", ticklen=6, tickcolor=AXIS_COLOR,
        showline=True, linecolor=AXIS_COLOR, linewidth=1, mirror="ticks",
        showgrid=False, zeroline=False,
        tickfont=dict(family=FONT, size=18, color="#111"))
    layout["yaxis" if k == 1 else f"yaxis{k}"] = dict(
        domain=[py(p["fy"][1]), py(p["fy"][0])], anchor=xa, type="log",
        range=p["yr"], tickvals=[10 ** d for d in p["dec"]],
        ticktext=[f"10<sup>{d}</sup>" for d in p["dec"]],
        ticks="inside", ticklen=6, tickcolor=AXIS_COLOR,
        showline=True, linecolor=AXIS_COLOR, linewidth=1, mirror="ticks",
        showgrid=False, zeroline=False,
        tickfont=dict(family=FONT, size=18, color="#111"))

    # satellite name, upper right inside the frame
    annotations.append(dict(
        xref="paper", yref="paper", x=px(p["fx"][1] - 10), y=py(p["sat_y"]),
        xanchor="right", yanchor="middle", text=p["sat"], showarrow=False,
        bgcolor=PANEL_BG, borderpad=1,
        font=dict(family=FONT, size=19, color="#111")))

# energy channel labels
chan_pos_1998 = [(105, 72.5), (123, 121), (142, 156), (162, 192)]
chan_pos_2000 = [(747, 76), (762, 112.5), (777, 156.5), (795, 202)]
for pos in (chan_pos_1998, chan_pos_2000):
    for (x, y), name, color in zip(pos, channels, channel_colors):
        annotations.append(dict(
            xref="paper", yref="paper", x=px(x), y=py(y), xanchor="left",
            yanchor="middle", text=name, showarrow=False,
            font=dict(family=FONT, size=19, color=color)))

# column titles, axis titles
for text, x in (("26 Aug 1998", 359), ("23 Jun 2000", 985)):
    annotations.append(dict(xref="paper", yref="paper", x=px(x), y=py(26),
                            xanchor="center", yanchor="middle", text=text,
                            showarrow=False, font=dict(family=FONT, size=30, color="#000")))
for x in (354, 979):
    annotations.append(dict(xref="paper", yref="paper", x=px(x), y=py(684),
                            xanchor="center", yanchor="middle", text="UT",
                            showarrow=False, font=dict(family=FONT, size=22, color="#000")))
annotations.append(dict(xref="paper", yref="paper", x=px(40), y=py(352),
                        xanchor="center", yanchor="middle", text="LANL Flux",
                        textangle=-90, showarrow=False,
                        font=dict(family=FONT, size=23, color="#000")))

shapes = [
    dict(type="rect", xref="paper", yref="paper", x0=px(20), x1=px(640),
         y0=0, y1=py(14), fillcolor=PANEL_BG, line=dict(width=0), layer="below"),
    dict(type="rect", xref="paper", yref="paper", x0=px(660), x1=px(1252),
         y0=0, y1=py(14), fillcolor=PANEL_BG, line=dict(width=0), layer="below"),
    # substorm onset markers
    dict(type="line", xref="x3", yref="paper", x0=onset_1998, x1=onset_1998,
         y0=py(645), y1=py(56.7), line=dict(color="#000", width=1, dash="3px,3px")),
    dict(type="line", xref="x6", yref="paper", x0=onset_2000, x1=onset_2000,
         y0=py(642.7), y1=py(57.3), line=dict(color="#000", width=1, dash="3px,3px")),
]

fig.update_layout(
    width=W, height=H, margin=dict(l=0, r=0, t=0, b=0),
    paper_bgcolor="#ffffff", plot_bgcolor="rgba(0,0,0,0)",
    showlegend=False, annotations=annotations, shapes=shapes,
    font=dict(family=FONT), **layout)

fig.write_html("out.html")
